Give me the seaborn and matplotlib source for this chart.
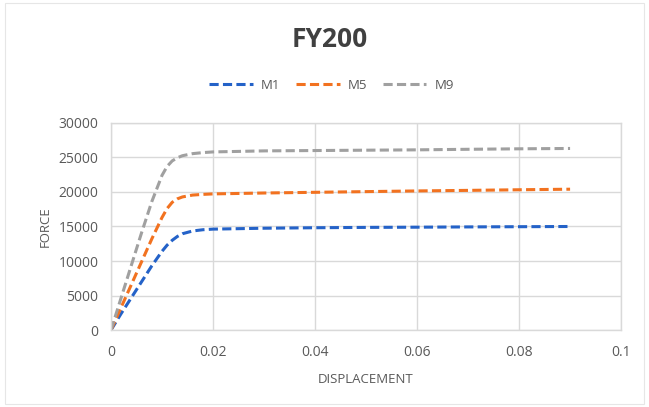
import numpy as np
import pandas as pd
import matplotlib
matplotlib.use("Agg")
import matplotlib.pyplot as plt
import seaborn as sns
from matplotlib.lines import Line2D

displacement = [0, 0.002, 0.004, 0.006, 0.008, 0.010, 0.011, 0.012, 0.013, 0.014, 0.016,
                0.018, 0.020, 0.03, 0.04, 0.05, 0.06, 0.07, 0.08, 0.09]
m1 = [0, 2400, 4700, 7000, 9300, 11400, 12300, 13000, 13550, 13950, 14350,
      14530, 14620, 14750, 14820, 14870, 14900, 14940, 14970, 15000]
m5 = [0, 3300, 6600, 9900, 13200, 16300, 17600, 18500, 19000, 19280, 19550,
      19650, 19720, 19850, 19950, 20050, 20150, 20230, 20320, 20400]
m9 = [0, 4700, 9400, 14100, 18600, 22400, 23700, 24500, 24950, 25250, 25550,
      25700, 25800, 25950, 26000, 26050, 26100, 26180, 26250, 26300]
series_names = ["M1", "M5", "M9"]
colors = ["#2462C8", "#F27220", "#A0A0A0"]

df = pd.concat([
    pd.DataFrame({"x": displacement, "y": vals, "series": name})
    for name, vals in zip(series_names, [m1, m5, m9])
])

sns.set_theme(style="white")
plt.rcParams["font.family"] = ["Open Sans", "DejaVu Sans"]

LW = 2.2
DASH = [3.0, 1.4]

fig = plt.figure(figsize=(6.49, 4.07), dpi=100)
ax = fig.add_axes([0.171, 0.189, 0.786, 0.509])

sns.lineplot(data=df, x="x", y="y", hue="series", palette=colors, ax=ax,
             linewidth=LW, legend=False, sort=False)
for line in ax.get_lines():
    line.set_dashes(DASH)
    line.set_dash_capstyle("butt")
    line.set_solid_joinstyle("round")

ax.set_xlim(0, 0.1)
ax.set_ylim(0, 30000)
ax.set_xticks([0, 0.02, 0.04, 0.06, 0.08, 0.1])
ax.set_xticklabels(["0", "0.02", "0.04", "0.06", "0.08", "0.1"])
ax.set_yticks(np.arange(0, 30001, 5000))
ax.set_yticklabels([str(v) for v in range(0, 30001, 5000)])
ax.grid(True, color="#D9D9D9", linewidth=1.0)
ax.set_axisbelow(True)
for s in ax.spines.values():
    s.set_color("#D9D9D9")
    s.set_linewidth(1.0)
ax.tick_params(axis="both", length=0, labelsize=10, colors="#595959")
ax.tick_params(axis="x", pad=11)
ax.tick_params(axis="y", pad=9)
ax.set_xlabel("DISPLACEMENT", fontsize=9.5, color="#595959", labelpad=9)
ax.set_ylabel("FORCE", fontsize=9.5, color="#595959", labelpad=5)

fig.text(0.508, 0.902, "FY200", ha="center", va="center", fontsize=19,
         fontweight="bold", color="#404040")

handles = [Line2D([0], [0], color=c, linewidth=LW, dashes=DASH) for c in colors]
leg = fig.legend(handles, series_names, loc="center", bbox_to_anchor=(0.511, 0.79),
                 ncol=3, frameon=False, fontsize=9.5, handlelength=3.3,
                 columnspacing=1.2, handletextpad=0.6)
for t in leg.get_texts():
    t.set_color("#595959")

fig.patches.append(plt.Rectangle((0.008, 0.008), 0.984, 0.984, transform=fig.transFigure,
                                 fill=False, edgecolor="#E6E6E6", linewidth=0.8))

fig.savefig("out.png", dpi=100, facecolor="white")
